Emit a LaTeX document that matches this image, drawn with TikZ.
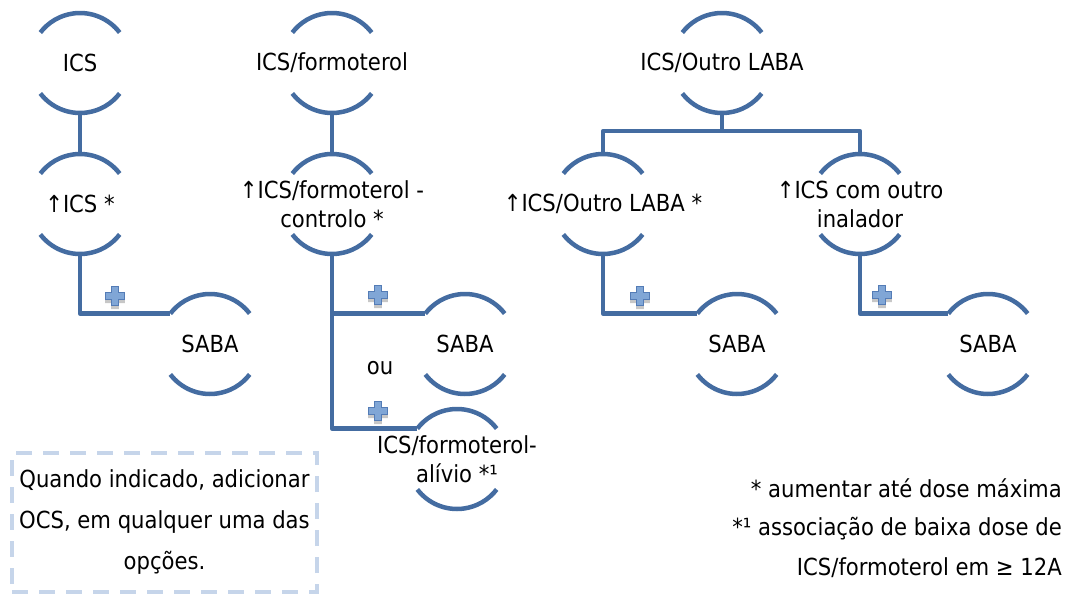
\documentclass[tikz,border=0pt]{standalone}
\usepackage{fontspec}
\setmainfont{DejaVu Sans Condensed}
\definecolor{linkblue}{RGB}{68,108,161}
\definecolor{plusfill}{RGB}{128,166,214}
\definecolor{plusedge}{RGB}{84,124,182}
\definecolor{boxblue}{RGB}{198,213,234}

\begin{document}
\begin{tikzpicture}[x=1pt,y=1pt,
  main node/.style={rectangle,minimum height=100pt,inner sep=0pt,align=center,
    font=\fontsize{23.5}{29}\selectfont},
  note/.style={inner sep=0pt,font=\fontsize{23.5}{29}\selectfont},
  link/.style={draw=linkblue,line width=4.5pt,line join=round},
  plus/.pic={
    \fill[black!22] (-3.8,6.5) -- (3.8,6.5) -- (3.8,0.5) -- (9.8,0.5) -- (9.8,-7) -- (3.8,-7)
      -- (3.8,-13) -- (-3.8,-13) -- (-3.8,-7) -- (-9.8,-7) -- (-9.8,0.5) -- (-3.8,0.5) -- cycle;
    \filldraw[fill=plusfill,draw=plusedge,line width=1pt] (-3.8,9.8) -- (3.8,9.8) -- (3.8,3.8)
      -- (9.8,3.8) -- (9.8,-3.8) -- (3.8,-3.8) -- (3.8,-9.8) -- (-3.8,-9.8) -- (-3.8,-3.8)
      -- (-9.8,-3.8) -- (-9.8,3.8) -- (-3.8,3.8) -- cycle;
  }]
  \useasboundingbox (0,0) rectangle (1069,-594);

  % first column
  \node[main node] (ics) at (80,-63) {ICS};
  \node[main node] (icsup) at (80,-204) {↑ICS *};
  \node[main node] (sabaA) at (210,-344) {SABA};

  % second column
  \node[main node] (form) at (332,-63) {ICS/formoterol};
  \node[main node] (formup) at (332,-204) {↑ICS/formoterol -\\controlo *};
  \node[main node] (sabaB) at (465,-344) {SABA};
  \node[main node] (alivio) at (457,-459) {ICS/formoterol-\\alívio *¹};

  % third column
  \node[main node] (laba) at (722,-63) {ICS/Outro LABA};
  \node[main node] (labaup) at (603,-204) {↑ICS/Outro LABA *};
  \node[main node] (outro) at (860,-204) {↑ICS com outro\\inalador};
  \node[main node] (sabaC) at (737,-344) {SABA};
  \node[main node] (sabaD) at (988,-344) {SABA};

  \foreach \n in {ics,icsup,sabaA,form,formup,sabaB,alivio,laba,labaup,outro,sabaC,sabaD}{
    \draw[link] ([shift={(37.5:50pt)}]\n.center) arc[start angle=37.5,end angle=142.5,radius=50pt];
    \draw[link] ([shift={(217.5:50pt)}]\n.center) arc[start angle=217.5,end angle=322.5,radius=50pt];
  }

  \draw[link] (ics.south) -- (icsup.north);
  \draw[link] (icsup.south) |- ([shift={(142.5:50pt)}]sabaA.center);
  \draw[link] (form.south) -- (formup.north);
  \draw[link] (formup.south) |- ([shift={(142.5:50pt)}]sabaB.center);
  \draw[link] (formup.south) |- ([shift={(142.5:50pt)}]alivio.center);
  \draw[link] (laba.south) -- ++(0,-18) -| (labaup.north);
  \draw[link] (laba.south) -- ++(0,-18) -| (outro.north);
  \draw[link] (labaup.south) |- ([shift={(142.5:50pt)}]sabaC.center);
  \draw[link] (outro.south) |- ([shift={(142.5:50pt)}]sabaD.center);

  \node[note] (ou) at (380,-368) {ou};

  \pic at (115,-296) {plus};
  \pic at (378,-295) {plus};
  \pic at (378,-411) {plus};
  \pic at (640,-296) {plus};
  \pic at (882,-295) {plus};

  \node[draw=boxblue,line width=4pt,dash pattern=on 16pt off 11pt,
    minimum width=305pt,minimum height=139pt,align=center,inner sep=0pt,
    font=\fontsize{23.5}{41}\selectfont] (ocs) at (164.5,-522.5)
    {Quando indicado, adicionar\\OCS, em qualquer uma das\\opções.};

  \node[note,anchor=base east] (max) at (1062,-497) {* aumentar até dose máxima};
  \node[note,anchor=base east] (assoc) at (1062,-535) {*¹ associação de baixa dose de};
  \node[note,anchor=base east] (age) at (1062,-575) {ICS/formoterol em ≥ 12A};
\end{tikzpicture}
\end{document}
